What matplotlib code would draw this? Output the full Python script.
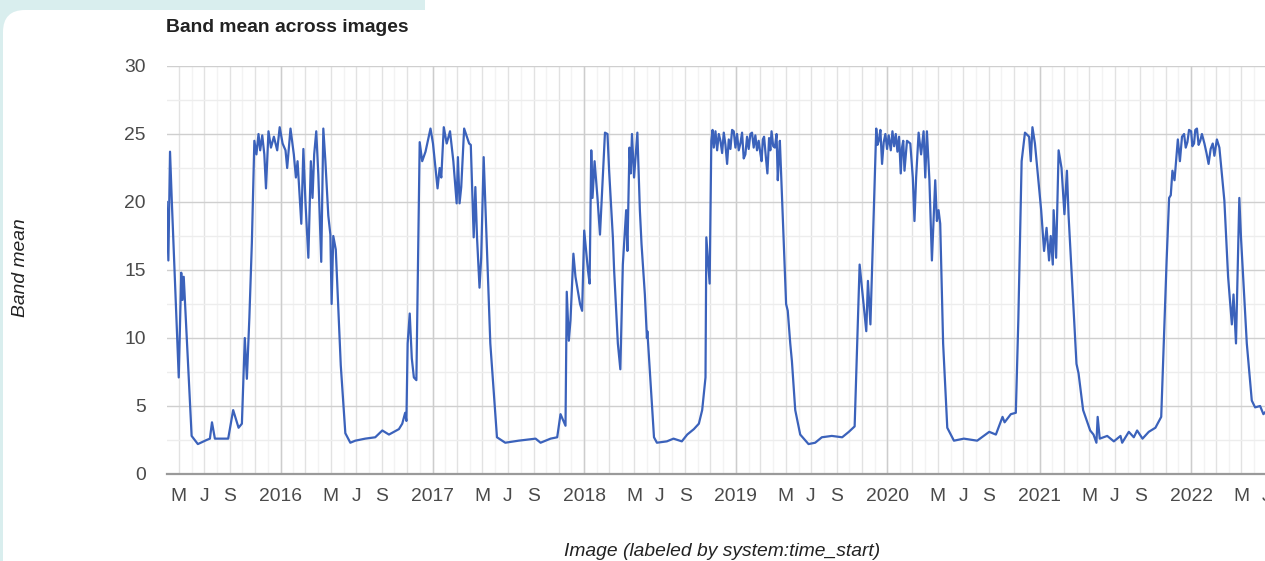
import numpy as np
import pandas as pd
import matplotlib
matplotlib.use('Agg')
import matplotlib.pyplot as plt
import matplotlib.dates as mdates
from matplotlib.patches import Rectangle, FancyBboxPatch
from matplotlib.transforms import IdentityTransform
from matplotlib.ticker import MultipleLocator, FuncFormatter

# band mean per image, keyed by system:time_start
dates = [
  '2015-04-02', '2015-04-06', '2015-04-10', '2015-04-14', '2015-05-01', '2015-05-07', '2015-05-10', '2015-05-13',
  '2015-06-01', '2015-06-16', '2015-07-07', '2015-07-15', '2015-07-20', '2015-07-27', '2015-08-13', '2015-08-28',
  '2015-09-09', '2015-09-22', '2015-09-30', '2015-10-07', '2015-10-12', '2015-10-18', '2015-10-24', '2015-10-30',
  '2015-11-04', '2015-11-09', '2015-11-13', '2015-11-18', '2015-11-23', '2015-11-27', '2015-12-03', '2015-12-09',
  '2015-12-16', '2015-12-24', '2015-12-30', '2016-01-06', '2016-01-13', '2016-01-17', '2016-01-25', '2016-02-02',
  '2016-02-07', '2016-02-11', '2016-02-20', '2016-02-25', '2016-03-01', '2016-03-08', '2016-03-14', '2016-03-18',
  '2016-03-22', '2016-03-27', '2016-04-01', '2016-04-08', '2016-04-13', '2016-04-18', '2016-04-25', '2016-04-30',
  '2016-05-03', '2016-05-07', '2016-05-13', '2016-05-25', '2016-06-05', '2016-06-17', '2016-06-29', '2016-07-23',
  '2016-08-16', '2016-09-02', '2016-09-18', '2016-10-12', '2016-10-20', '2016-10-27', '2016-10-30', '2016-11-02',
  '2016-11-07', '2016-11-12', '2016-11-17', '2016-11-23', '2016-12-01', '2016-12-07', '2016-12-15', '2016-12-27',
  '2017-01-02', '2017-01-13', '2017-01-18', '2017-01-22', '2017-01-28', '2017-02-04', '2017-02-12', '2017-02-20',
  '2017-02-28', '2017-03-03', '2017-03-07', '2017-03-11', '2017-03-18', '2017-03-30', '2017-04-03', '2017-04-10',
  '2017-04-14', '2017-04-18', '2017-04-24', '2017-04-28', '2017-05-04', '2017-05-20', '2017-06-05', '2017-06-25',
  '2017-07-27', '2017-09-06', '2017-09-18', '2017-10-12', '2017-10-28', '2017-11-05', '2017-11-17', '2017-11-20',
  '2017-11-25', '2017-11-29', '2017-12-06', '2017-12-11', '2017-12-22', '2017-12-27', '2018-01-01', '2018-01-10',
  '2018-01-14', '2018-01-18', '2018-01-21', '2018-01-26', '2018-02-02', '2018-02-08', '2018-02-20', '2018-02-26',
  '2018-03-02', '2018-03-11', '2018-03-14', '2018-03-23', '2018-03-29', '2018-04-04', '2018-04-12', '2018-04-15',
  '2018-04-20', '2018-04-23', '2018-04-26', '2018-05-01', '2018-05-09', '2018-05-15', '2018-05-19', '2018-05-27',
  '2018-06-01', '2018-06-02', '2018-06-18', '2018-06-25', '2018-07-19', '2018-08-04', '2018-08-24', '2018-09-06',
  '2018-09-22', '2018-10-04', '2018-10-12', '2018-10-20', '2018-10-22', '2018-10-30', '2018-11-03', '2018-11-06',
  '2018-11-09', '2018-11-13', '2018-11-17', '2018-11-21', '2018-11-25', '2018-11-29', '2018-12-03', '2018-12-07',
  '2018-12-11', '2018-12-15', '2018-12-19', '2018-12-23', '2018-12-27', '2018-12-31', '2019-01-04', '2019-01-08',
  '2019-01-12', '2019-01-16', '2019-01-20', '2019-01-24', '2019-01-28', '2019-02-01', '2019-02-05', '2019-02-09',
  '2019-02-13', '2019-02-17', '2019-02-21', '2019-02-25', '2019-03-01', '2019-03-04', '2019-03-07', '2019-03-10',
  '2019-03-14', '2019-03-18', '2019-03-22', '2019-03-25', '2019-03-28', '2019-04-01', '2019-04-05', '2019-04-09',
  '2019-04-12', '2019-04-15', '2019-04-17', '2019-05-02', '2019-05-06',
  '2019-05-12', '2019-05-16', '2019-05-24', '2019-06-05', '2019-06-25', '2019-07-11', '2019-07-27', '2019-08-20',
  '2019-09-14', '2019-09-30', '2019-10-14', '2019-10-26', '2019-11-11', '2019-11-15', '2019-11-21', '2019-12-05',
  '2019-12-08', '2019-12-11', '2019-12-15', '2019-12-19', '2019-12-23', '2019-12-27', '2019-12-31', '2020-01-04',
  '2020-01-09', '2020-01-13', '2020-01-17', '2020-01-21', '2020-01-25', '2020-01-29', '2020-02-02', '2020-02-05',
  '2020-02-08', '2020-02-11',
  '2020-02-17', '2020-02-25', '2020-03-02', '2020-03-06', '2020-03-10', '2020-03-16', '2020-03-22', '2020-03-28',
  '2020-04-01', '2020-04-05', '2020-04-11', '2020-04-17', '2020-04-25', '2020-04-29', '2020-05-03', '2020-05-07',
  '2020-05-14', '2020-05-24', '2020-06-09', '2020-07-03', '2020-08-04', '2020-09-02', '2020-09-18', '2020-10-04',
  '2020-10-09', '2020-10-24', '2020-11-05', '2020-11-11', '2020-11-19', '2020-11-27', '2020-12-07', '2020-12-11',
  '2020-12-15', '2020-12-21', '2021-01-05', '2021-01-12', '2021-01-18', '2021-01-24', '2021-01-28', '2021-02-02',
  '2021-02-04', '2021-02-10', '2021-02-16', '2021-02-23', '2021-03-02', '2021-03-08', '2021-03-12', '2021-03-31',
  '2021-04-05', '2021-04-16', '2021-05-03', '2021-05-11', '2021-05-18', '2021-05-21', '2021-05-26', '2021-06-13',
  '2021-06-29', '2021-07-15', '2021-07-19', '2021-08-04', '2021-08-16', '2021-08-24', '2021-09-06', '2021-09-21',
  '2021-10-07', '2021-10-21', '2021-11-03', '2021-11-09', '2021-11-13', '2021-11-17', '2021-11-22', '2021-11-30',
  '2021-12-05', '2021-12-10', '2021-12-15', '2021-12-19', '2021-12-23', '2021-12-27', '2022-01-01', '2022-01-04',
  '2022-01-08', '2022-01-11', '2022-01-15', '2022-01-19', '2022-01-23', '2022-01-27', '2022-02-02',
  '2022-02-07', '2022-02-12', '2022-02-17', '2022-02-22', '2022-02-26', '2022-03-04', '2022-03-10',
  '2022-03-22', '2022-03-31', '2022-04-09', '2022-04-13',
  '2022-04-19', '2022-04-27', '2022-05-01', '2022-05-15', '2022-05-27', '2022-06-04', '2022-06-16', '2022-06-24',
  '2022-06-30',
]

band_mean = [
  20.0, 15.7, 23.7, 20.3, 7.1, 14.8, 12.8, 14.5,
  2.8, 2.2, 2.5, 2.6, 3.8, 2.6, 2.6, 2.6,
  4.7, 3.4, 3.7, 10.0, 7.0, 11.5, 17.0, 24.5,
  23.5, 25.0, 23.8, 24.9, 23.5, 21.0, 25.2, 24.0,
  24.8, 23.8, 25.5, 24.3, 23.8, 22.5, 25.4, 23.5,
  21.8, 23.0, 18.4, 23.9, 20.0, 15.9, 23.0, 20.3,
  23.5, 25.2, 22.0, 15.6, 25.4, 23.0, 19.0, 17.6,
  12.5, 17.5, 16.5, 8.0, 3.0, 2.3, 2.45, 2.6,
  2.7, 3.2, 2.9, 3.3, 3.7, 4.5, 3.9, 9.6,
  11.8, 8.5, 7.1, 6.9, 24.4, 23.0, 23.7, 25.4,
  24.3, 21.0, 22.5, 21.8, 25.5, 24.3, 25.2, 23.0,
  19.9, 23.3, 19.9, 21.1, 25.4, 24.3, 24.2, 17.4,
  21.1, 17.4, 13.7, 15.9, 23.3, 9.6, 2.7, 2.3,
  2.45, 2.6, 2.3, 2.6, 2.7, 4.4, 3.55, 13.4,
  9.8, 11.3, 16.2, 14.5, 12.5, 12.0, 17.9, 15.0,
  14.0, 23.8, 20.3, 23.0, 20.3, 17.6, 25.1, 25.0,
  22.3, 17.4, 15.0, 9.6, 7.7, 15.4, 19.4, 16.4,
  24.0, 22.1, 25.0, 21.8, 25.1, 19.4, 16.9, 13.2,
  10.0, 10.5, 2.7, 2.3, 2.4, 2.6, 2.4, 2.9,
  3.3, 3.7, 4.7, 7.1, 17.4, 14.0, 24.5, 25.3,
  24.0, 25.2, 23.8, 25.0, 24.5, 23.6, 25.1, 24.2,
  22.8, 24.6, 23.9, 25.3, 25.2, 24.0, 25.0, 23.8,
  24.3, 25.1, 23.2, 23.5, 24.8, 23.9, 25.0, 25.1,
  24.0, 24.9, 23.8, 24.5, 23.6, 23.0, 24.6, 24.8,
  23.4, 22.1, 24.7, 23.8, 25.2, 24.1, 24.0, 25.0,
  21.6, 23.5, 24.5, 12.5, 12.0,
  9.6, 8.3, 4.7, 2.9, 2.2, 2.3, 2.7, 2.8,
  2.7, 3.1, 3.5, 15.4, 10.5, 14.2, 11.0, 25.4,
  24.2, 24.5, 25.3, 22.8, 24.4, 25.0, 23.9, 24.9,
  23.8, 25.2, 24.1, 25.0, 23.7, 24.8, 22.1, 24.0,
  24.5, 22.3,
  24.5, 24.3, 21.8, 18.6, 21.8, 25.1, 23.5, 25.2,
  21.8, 25.2, 21.6, 15.7, 21.6, 18.6, 19.4, 18.4,
  9.6, 3.4, 2.45, 2.6, 2.45, 3.1, 2.9, 4.2,
  3.8, 4.4, 4.5, 11.3, 23.0, 25.1, 24.8, 23.0,
  25.5, 24.3, 19.4, 16.4, 18.1, 15.7, 17.5, 15.4,
  19.4, 15.9, 23.8, 22.5, 19.1, 22.3, 19.0, 8.1,
  7.4, 4.7, 3.2, 2.9, 2.3, 4.2, 2.6, 2.8,
  2.4, 2.8, 2.3, 3.1, 2.7, 3.2, 2.6, 3.1,
  3.4, 4.2, 15.7, 20.3, 20.5, 22.3, 21.6, 24.6,
  23.0, 24.8, 25.0, 24.0, 24.4, 25.3, 25.2, 24.1,
  24.3, 25.3, 25.4, 24.2, 24.5, 25.0, 24.3,
  23.6, 22.8, 23.9, 24.3, 23.4, 24.6, 24.0,
  20.1, 14.5, 11.0, 13.2,
  9.6, 20.3, 17.4, 9.6, 5.4, 4.9, 5.0, 4.4,
  4.6,
]

title = 'Band mean across images'
x_label = 'Image (labeled by system:time_start)'
y_label = 'Band mean'

assert len(dates) == len(band_mean)
t = pd.to_datetime(dates)

W, H = 1265, 561
plt.rcParams['font.family'] = ['Liberation Sans', 'DejaVu Sans']
fs = 13.9

fig = plt.figure(figsize=(W / 100., H / 100.), dpi=100)
fig.patch.set_facecolor('white')

# page behind the chart card (pixel coordinates), kept under the axes
px = IdentityTransform()
fig.add_artist(Rectangle((0, H - 10), 425, 10, transform=px, facecolor='#d9eeee', edgecolor='none', zorder=-3))
fig.add_artist(Rectangle((0, 0), 30, H, transform=px, facecolor='#d9eeee', edgecolor='none', zorder=-3))
fig.add_artist(FancyBboxPatch((3, -60), W + 60, H - 10 + 60, boxstyle='round,pad=0,rounding_size=22',
                              transform=px, facecolor='white', edgecolor='none', zorder=-2))

ax = fig.add_axes([166.7 / W, 87. / H, (1290 - 166.7) / W, 408. / H])
ax.set_facecolor('none')
ax.plot(t, band_mean, color='#3b62bb', lw=1.6, zorder=3)

ax.set_ylim(0, 30)
ax.set_xlim(pd.Timestamp('2015-04-02'), pd.Timestamp('2022-08-27'))

for side in ['top', 'right', 'left']:
  ax.spines[side].set_visible(False)
ax.spines['bottom'].set_color('#9a9a9a')
ax.spines['bottom'].set_linewidth(1.6)
ax.spines['bottom'].set_zorder(4)

# y axis: labelled every 5, faint lines every 2.5
ax.yaxis.set_major_locator(MultipleLocator(5))
ax.yaxis.set_minor_locator(MultipleLocator(2.5))
ax.grid(which='major', axis='y', color='#cfcfcf', lw=1.0)
ax.grid(which='minor', axis='y', color='#ededed', lw=1.0)

# x axis: lines every two months and every month, labels for Jan/May/Jul/Sep
def month_label(x, pos):
  d = mdates.num2date(x)
  if d.month == 1:
    return str(d.year)
  if d.month in (5, 7, 9):
    return d.strftime('%b')[0]
  return ''

ax.xaxis.set_major_locator(mdates.MonthLocator(bymonth=[1, 3, 5, 7, 9, 11]))
ax.xaxis.set_minor_locator(mdates.MonthLocator())
ax.xaxis.set_major_formatter(FuncFormatter(month_label))
ax.grid(which='major', axis='x', color='#e2e2e2', lw=1.0)
ax.grid(which='minor', axis='x', color='#f3f3f3', lw=1.0)
for yr in pd.date_range('2016-01-01', '2022-01-01', freq='YS'):
  ax.axvline(yr, color='#cdcdcd', lw=1.0, zorder=1)
ax.set_axisbelow(True)

ax.tick_params(axis='both', which='both', length=0)
ax.tick_params(axis='y', labelsize=fs, labelcolor='#4a4a4a', pad=15)
ax.tick_params(axis='x', labelsize=fs, labelcolor='#4a4a4a', pad=10)

fig.text(166. / W, 1 - 32. / H, title, fontsize=fs, fontweight='bold', color='#222222', va='baseline')
fig.text(21. / W, 1 - 268. / H, y_label, fontsize=fs, style='italic', color='#222222',
         rotation=90, ha='center', va='center')
fig.text(722. / W, 1 - 551. / H, x_label, fontsize=fs, style='italic', color='#222222',
         ha='center', va='center')

plt.savefig('out.png', dpi=100)
